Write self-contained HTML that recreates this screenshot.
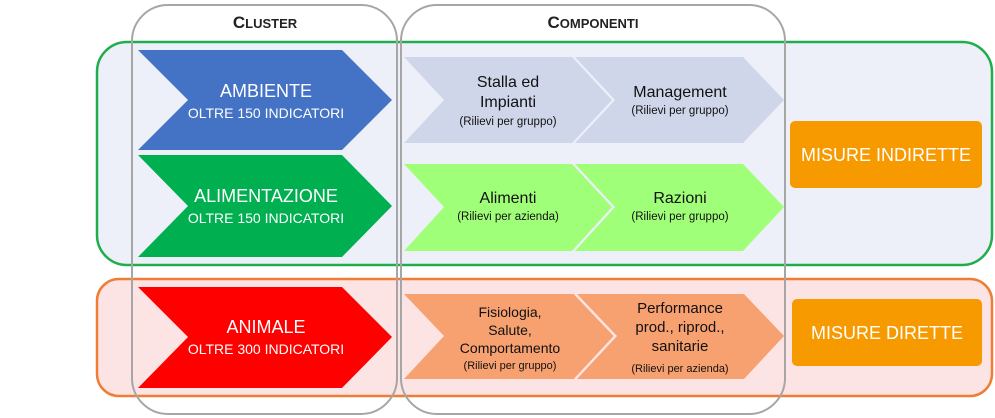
<!DOCTYPE html>
<html><head><meta charset="utf-8"><style>
html,body{margin:0;padding:0;background:#fff;}
svg{display:block;font-family:"Liberation Sans",sans-serif;}
</style></head><body>
<svg width="995" height="418" viewBox="0 0 995 418" xmlns="http://www.w3.org/2000/svg">
<rect x="97" y="42" width="895" height="223" rx="30" fill="#edf0f8" stroke="#1fae4b" stroke-width="2.5"/>
<rect x="97" y="279" width="895" height="117" rx="22" fill="#fde4e4" stroke="#ef7d33" stroke-width="2.5"/>
<rect x="132" y="5" width="265" height="409" rx="36" fill="none" stroke="#a6a6a6" stroke-width="2"/>
<rect x="401" y="5" width="384" height="409" rx="36" fill="none" stroke="#a6a6a6" stroke-width="2"/>
<text x="265" y="28" text-anchor="middle" font-size="17" font-weight="bold" fill="#222">C<tspan font-size="13">LUSTER</tspan></text>
<text x="593" y="28" text-anchor="middle" font-size="17" font-weight="bold" fill="#222">C<tspan font-size="13">OMPONENTI</tspan></text>
<polygon points="138,50 342,50 392,100 342,150 138,150 188,100" fill="#4472c4"/>
<polygon points="138,155 342,155 392,206 342,257 138,257 188,206" fill="#00b050"/>
<polygon points="138,287 342,287 392,337 342,388 138,388 188,337" fill="#ff0000"/>
<g fill="#fff" text-anchor="middle">
<text x="266" y="97" font-size="18">AMBIENTE</text>
<text x="266" y="118" font-size="14">OLTRE 150 INDICATORI</text>
<text x="266" y="202" font-size="18">ALIMENTAZIONE</text>
<text x="266" y="223" font-size="14">OLTRE 150 INDICATORI</text>
<text x="266" y="333" font-size="18">ANIMALE</text>
<text x="266" y="354" font-size="14">OLTRE 300 INDICATORI</text>
</g>
<polygon points="404,57 572,57 612,100 572,143 404,143 444,100" fill="#d0d6ea"/>
<polygon points="575,57 743,57 784,100 743,143 575,143 615,100" fill="#d0d6ea"/>
<polygon points="404,164 572,164 612,207 572,251 404,251 444,207" fill="#a0ff78"/>
<polygon points="575,164 743,164 784,207 743,251 575,251 615,207" fill="#a0ff78"/>
<polygon points="404,294 574,294 614,336 574,379 404,379 444,336" fill="#f7a070"/>
<polygon points="577,294 744,294 784,336 744,379 577,379 617,336" fill="#f7a070"/>
<line x1="575" y1="294" x2="615" y2="336" stroke="#fde4e4" stroke-width="2"/>
<line x1="615" y1="336" x2="575" y2="379" stroke="#fde4e4" stroke-width="2"/>
<g fill="#111" text-anchor="middle">
<text x="508" y="87" font-size="16">Stalla ed</text>
<text x="508" y="107" font-size="16">Impianti</text>
<text x="508" y="125" font-size="11.5">(Rilievi per gruppo)</text>
<text x="680" y="97" font-size="16">Management</text>
<text x="680" y="114" font-size="11.5">(Rilievi per gruppo)</text>
<text x="508" y="203" font-size="16">Alimenti</text>
<text x="508" y="220" font-size="11.5">(Rilievi per azienda)</text>
<text x="680" y="203" font-size="16">Razioni</text>
<text x="680" y="220" font-size="11.5">(Rilievi per gruppo)</text>
<text x="510" y="317" font-size="14">Fisiologia,</text>
<text x="510" y="335" font-size="14">Salute,</text>
<text x="510" y="353" font-size="14">Comportamento</text>
<text x="510" y="369" font-size="11">(Rilievi per gruppo)</text>
<text x="680" y="313" font-size="15">Performance</text>
<text x="680" y="332" font-size="15">prod., riprod.,</text>
<text x="680" y="351" font-size="15">sanitarie</text>
<text x="680" y="372" font-size="11">(Rilievi per azienda)</text>
</g>
<rect x="790" y="121" width="192" height="67" rx="5" fill="#f79a00"/>
<rect x="792" y="299" width="190" height="67" rx="5" fill="#f79a00"/>
<g fill="#fff" text-anchor="middle" font-size="18">
<text x="886" y="161">MISURE INDIRETTE</text>
<text x="887" y="339">MISURE DIRETTE</text>
</g>
</svg>
</body></html>
